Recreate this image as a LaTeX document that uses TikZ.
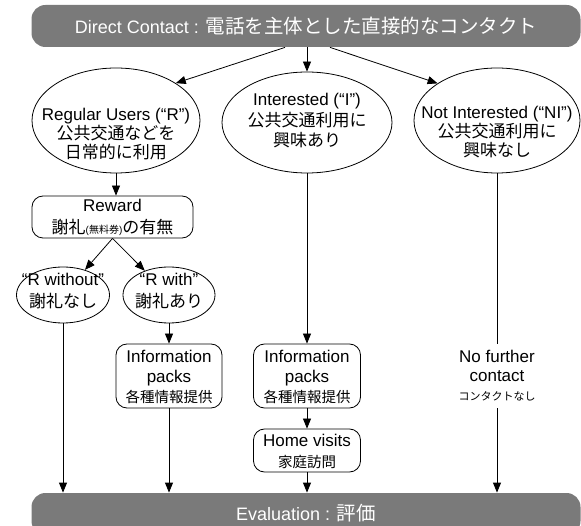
\documentclass[tikz,border=0pt]{standalone}
\usepackage{fontspec}
\setmainfont{Liberation Sans}
\newfontfamily\jp{Noto Sans CJK JP}
\usetikzlibrary{shapes.geometric,arrows.meta}

\begin{document}
\begin{tikzpicture}[x=1pt, y=-1pt, line width=0.8pt,
	bar/.style={rounded corners=14pt, fill=black!52, minimum width=549pt, minimum height=42pt, inner sep=0pt},
	oval/.style={ellipse, draw, inner sep=0pt},
	rbox/.style={draw, rounded corners=11pt, inner sep=0pt},
	lbl/.style={align=center, inner sep=0pt, font=\fontsize{17}{19}\selectfont},
	arr/.style={-{Triangle[length=10pt, width=8pt]}}]

	\useasboundingbox (0, 0) rectangle (581, 526);

	\node[bar] (top) at (306, 26) {};
	\node[bar] (bot) at (306, 514) {};
	\node[oval, minimum width=168pt, minimum height=105pt] (R) at (116, 120.5) {};
	\node[oval, minimum width=170pt, minimum height=101pt] (I) at (307, 122.5) {};
	\node[oval, minimum width=166pt, minimum height=105pt] (NI) at (497, 120.5) {};
	\node[rbox, minimum width=161pt, minimum height=42pt] (rew) at (112.5, 217) {};
	\node[oval, minimum width=93pt, minimum height=56pt] (rwo) at (63, 295) {};
	\node[oval, minimum width=92pt, minimum height=56pt] (rw) at (169, 295) {};
	\node[rbox, minimum width=106pt, minimum height=64pt] (info1) at (169, 376) {};
	\node[rbox, minimum width=107pt, minimum height=64pt] (info2) at (307, 376) {};
	\node[rbox, minimum width=107pt, minimum height=43pt] (home) at (307, 450.5) {};
	\node[lbl, minimum height=64pt] (nfc) at (497, 376) {No further\\contact\\{\jp\fontsize{11}{11}\selectfont コンタクトなし}};

	% 矢印を引く
	\draw[arr] ([xshift=-21pt]top.south) -- (R.32);
	\draw[arr] (top.south -| I) -- (I);
	\draw[arr] ([xshift=24pt]top.south) -- (NI.148);
	\draw[arr] (R) -- (R |- rew.north);
	\draw[arr] (rew.south) -- (rwo);
	\draw[arr] (rew.south) -- (rw);
	\draw[arr] (rw) -- (info1);
	\draw[arr] (rwo) -- (rwo |- bot.north);
	\draw[arr] (info1) -- (info1 |- bot.north);
	\draw[arr] (I) -- (info2);
	\draw[arr] (info2) -- (home);
	\draw[arr] (home) -- (home |- bot.north);
	\draw (NI) -- (nfc);
	\draw[arr] (nfc) -- (nfc |- bot.north);

	% 文字を入れる
	\node[lbl, text=white, font=\fontsize{18}{20}\selectfont] (topt) at (306, 26) {Direct Contact : {\jp\fontsize{19.5}{20}\selectfont 電話を主体とした直接的なコンタクト}};
	\node[lbl, text=white, font=\fontsize{18}{20}\selectfont] (bott) at (306, 513) {Evaluation : {\jp\fontsize{19.5}{20}\selectfont 評価}};
	\node[lbl] (Rt) at (116, 134) {Regular Users (“R”)\\{\jp 公共交通などを}\\{\jp 日常的に利用}};
	\node[lbl, font=\fontsize{17}{20.5}\selectfont] (It) at (307, 121) {Interested (“I”)\\{\jp 公共交通利用に}\\{\jp 興味あり}};
	\node[lbl] (NIt) at (497, 132) {Not Interested (“NI”)\\{\jp 公共交通利用に}\\{\jp 興味なし}};
	\node[lbl, font=\fontsize{17}{22}\selectfont] (rewt) at (112.5, 217) {Reward\\{\jp 謝礼}{\fontsize{10}{10}\selectfont({\jp 無料券})}{\jp の有無}};
	\node[lbl, font=\fontsize{17}{22}\selectfont] (rwot) at (63, 291) {“R without”\\{\jp 謝礼なし}};
	\node[lbl, font=\fontsize{17}{22}\selectfont] (rwt) at (169, 291) {“R with”\\{\jp 謝礼あり}};
	\node[lbl, font=\fontsize{17}{20}\selectfont] (info1t) at (169, 377) {Information\\packs\\{\jp\fontsize{14.5}{16}\selectfont 各種情報提供}};
	\node[lbl, font=\fontsize{17}{20}\selectfont] (info2t) at (307, 377) {Information\\packs\\{\jp\fontsize{14.5}{16}\selectfont 各種情報提供}};
	\node[lbl, font=\fontsize{17}{21}\selectfont] (homet) at (307, 451) {Home visits\\{\jp\fontsize{14.5}{16}\selectfont 家庭訪問}};
\end{tikzpicture}
\end{document}
